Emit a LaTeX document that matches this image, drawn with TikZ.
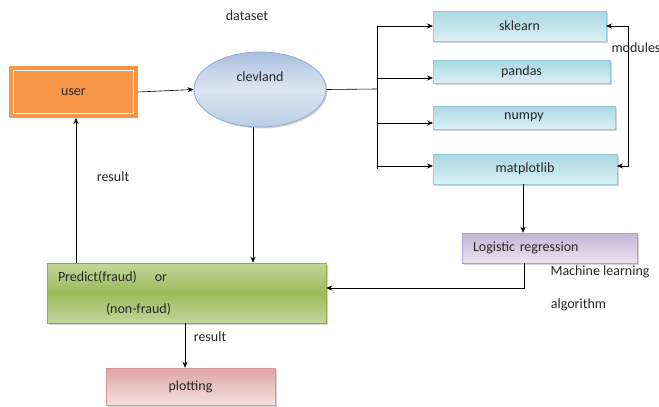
\documentclass[tikz,border=0pt]{standalone}
\usepackage{fontspec}
\setmainfont{Carlito}
\usetikzlibrary{arrows.meta,shadows,shapes.geometric}
\definecolor{orangeF}{HTML}{F79646}
\definecolor{ellT}{HTML}{A9C0DF}
\definecolor{ellM}{HTML}{DCE6F2}
\definecolor{ellD}{HTML}{8FAAD1}
\definecolor{cyT}{HTML}{A8D8E5}
\definecolor{cyB}{HTML}{DDF0F5}
\definecolor{cyD}{HTML}{93CDDD}
\definecolor{puT}{HTML}{C3B5D6}
\definecolor{puB}{HTML}{EAE4F0}
\definecolor{puD}{HTML}{B2A1C7}
\definecolor{grT}{HTML}{C3D69B}
\definecolor{grM}{HTML}{9BBB59}
\definecolor{grD}{HTML}{8AAA4B}
\definecolor{pkT}{HTML}{DBA5A4}
\definecolor{pkB}{HTML}{F5E0E0}
\definecolor{pkD}{HTML}{D99795}
\definecolor{txt}{HTML}{262626}
\begin{document}
\begin{tikzpicture}[x=1pt,y=-1pt,
  every node/.style={font=\fontsize{14}{17}\selectfont, text=txt},
  arr/.style={-{Stealth[length=6pt,width=5pt]}, line width=0.6pt, black},
  ln/.style={line width=0.6pt, black},
  shd/.style={drop shadow={shadow xshift=1.5pt, shadow yshift=-1.5pt, opacity=0.35, fill=gray}},
  modbox/.style={rectangle, draw=cyD, line width=0.5pt, top color=cyT, bottom color=cyB, shd, inner sep=0pt, outer sep=0pt},
  userbox/.style={rectangle, fill=orangeF, draw=white, line width=1.3pt, preaction={draw=orangeF, line width=9pt}, minimum width=120pt, minimum height=43pt, outer sep=4.5pt},
  ellbox/.style={ellipse, draw=ellD, line width=0.8pt, top color=ellT, bottom color=ellT!80, middle color=ellM, minimum width=132pt, minimum height=75pt, shd, inner sep=0pt},
  lrbox/.style={rectangle, draw=puD, line width=0.5pt, top color=puT, bottom color=puB, shd, minimum width=175pt, minimum height=30pt, text width=153pt, inner xsep=11pt, align=left},
  predbox/.style={rectangle, draw=grD, line width=0.5pt, top color=grT, bottom color=grT, middle color=grM, shd, minimum width=279pt, minimum height=60pt, text width=257pt, inner xsep=11pt, align=left},
  plotbox/.style={rectangle, draw=pkD, line width=0.5pt, top color=pkT, bottom color=pkB, shd, minimum width=169pt, minimum height=37pt}
]
\useasboundingbox (0,0) rectangle (659,407);

% nodes
\node[userbox] (user) at (73.5,92) {user};
\node[ellbox, label={[yshift=13pt, text=txt]center:clevland}] (clev) at (260,89.5) {};
\node (dataset) at (247,16) {dataset};

\node[modbox, minimum width=173pt, minimum height=30pt] (sk) at (519.5,26) {sklearn};
\node[modbox, minimum width=177pt, minimum height=23pt] (pd) at (521.5,72) {pandas};
\node[modbox, minimum width=182pt, minimum height=23pt] (np) at (524,117.5) {numpy};
\node[modbox, minimum width=184pt, minimum height=30pt] (mp) at (525,169) {matplotlib};
\node (modules) at (636,48) {modules};

\node[lrbox] (lr) at (549.5,248) {Logistic regression};
\node (ml) at (600,272) {Machine learning};
\node (alg) at (578.5,305) {algorithm};

\node[predbox] (pred) at (186.5,293) {Predict(fraud)\hspace{18pt}or\\[15pt]\hspace{48pt}(non-fraud)};
\node[plotbox] (plot) at (190.5,386.5) {plotting};

\node (res1) at (113,177) {result};
\node (res2) at (210,337) {result};

\coordinate (bus) at (377,89);
\coordinate (modr) at (628,26);

% connectors
\draw[arr] (user.east) -- (clev.west);
\draw[ln] (clev.east) -- (bus);
\draw[ln] (bus |- sk.west) -- (bus |- mp.west);
\draw[arr] (bus |- sk.west) -- (sk.west);
\draw[arr] ([yshift=-6pt]bus |- pd.west) -- ([yshift=-6pt]pd.west);
\draw[arr] ([yshift=-5.5pt]bus |- np.west) -- ([yshift=-5.5pt]np.west);
\draw[arr] ([yshift=3pt]bus |- mp.west) -- ([yshift=3pt]mp.west);
\draw[{Stealth[length=6pt,width=5pt]}-{Stealth[length=6pt,width=5pt]}, line width=0.6pt] (sk.east) -- (modr) |- ([yshift=3pt]mp.east);
\draw[arr] ([xshift=-2pt]mp.south) -- ([xshift=-2pt]mp.south |- lr.north);
\draw[arr] ([xshift=-25.5pt]lr.south) |- ([yshift=5pt]pred.east);
\draw[arr] ([xshift=-7pt]clev.south) -- ([xshift=-7pt]clev.south |- pred.north);
\draw[arr] ([xshift=2.5pt]user.south |- pred.north) -- ([xshift=2.5pt]user.south);
\draw[arr] ([xshift=-1.5pt]pred.south) -- ([xshift=-1.5pt]pred.south |- plot.north);
\end{tikzpicture}
\end{document}
